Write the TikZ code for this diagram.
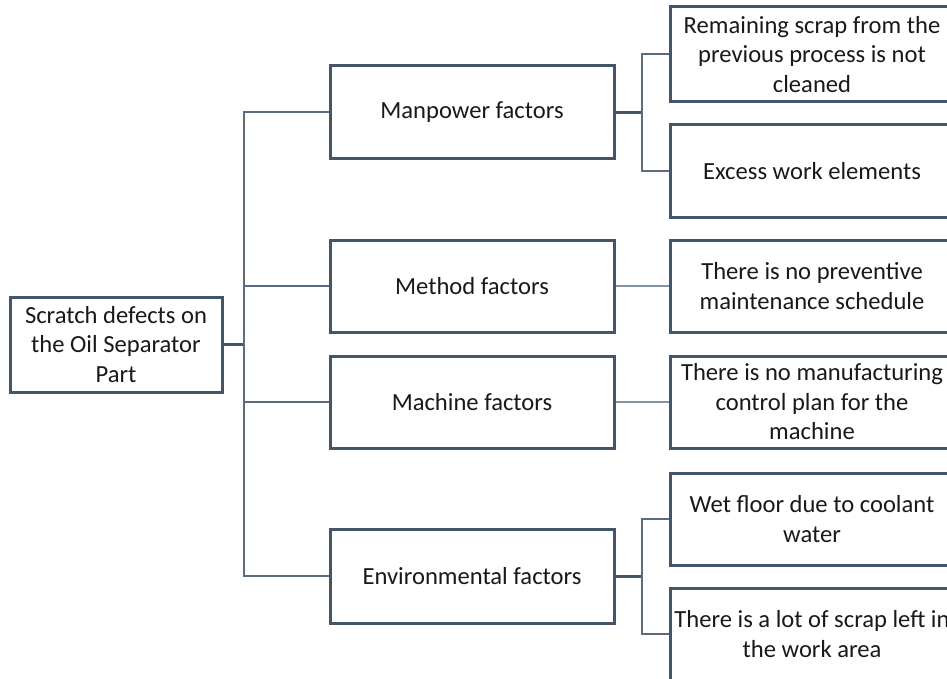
\documentclass[tikz,border=0pt]{standalone}
\usepackage{fontspec}
\setmainfont{Carlito}
\definecolor{boxc}{HTML}{44546A}
\definecolor{thinc}{HTML}{5B6B80}
\definecolor{lightc}{HTML}{8393A6}
\begin{document}
\begin{tikzpicture}[x=1pt,y=-1pt,
  box/.style={draw=boxc,line width=3pt,fill=white,align=center,inner sep=0pt,
    font=\fontsize{24.6}{29.5}\selectfont,text=black!90},
  thick/.style={draw=boxc,line width=3pt},
  thin/.style={draw=thinc,line width=2pt},
  light/.style={draw=lightc,line width=2pt}]
\useasboundingbox (0,0) rectangle (947,679);
\clip (0,0) rectangle (947,679);
% root
\node[box,minimum width=212pt,minimum height=95pt] (root) at (116,344.5) {Scratch defects on\\the Oil Separator\\Part};
% middle
\node[box,minimum width=284pt,minimum height=93pt] (man) at (472,112.5) {Manpower factors};
\node[box,minimum width=284pt,minimum height=92pt] (met) at (472,286) {Method factors};
\node[box,minimum width=284pt,minimum height=92pt] (mac) at (472,402) {Machine factors};
\node[box,minimum width=284pt,minimum height=94pt] (env) at (472,576) {Environmental factors};
% right
\node[box,minimum width=284pt,minimum height=95pt] (r1) at (812,54.5) {Remaining scrap from the\\previous process is not\\cleaned};
\node[box,minimum width=284pt,minimum height=92pt] (r2) at (812,171) {Excess work elements};
\node[box,minimum width=284pt,minimum height=92pt] (r3) at (812,286) {There is no preventive\\maintenance schedule};
\node[box,minimum width=284pt,minimum height=92pt] (r4) at (812,402) {There is no manufacturing\\control plan for the\\machine};
\node[box,minimum width=284pt,minimum height=92pt] (r5) at (812,519) {Wet floor due to coolant\\water};
\node[box,minimum width=284pt,minimum height=92pt] (r6) at (812,634) {There is a lot of scrap left in\\the work area};
% coordinates
\coordinate (tr) at (244,344.5);
\coordinate (s1) at (642,112.5);
\coordinate (s2) at (642,576);
% root connector and trunk
\draw[thick] (root.east) -- (tr);
\draw[thin] (man.west) -| (tr) |- (env.west);
\draw[thin] (tr) |- (met.west);
\draw[thin] (tr) |- (mac.west);
% manpower
\draw[thick] (man.east) -- (s1);
\draw[thin] (r1.west) -| (s1) |- (r2.west);
% method / machine
\draw[light] (met.east) -- (r3.west);
\draw[light] (mac.east) -- (r4.west);
% environmental
\draw[thick] (env.east) -- (s2);
\draw[thin] (r5.west) -| (s2) |- (r6.west);
\end{tikzpicture}
\end{document}
